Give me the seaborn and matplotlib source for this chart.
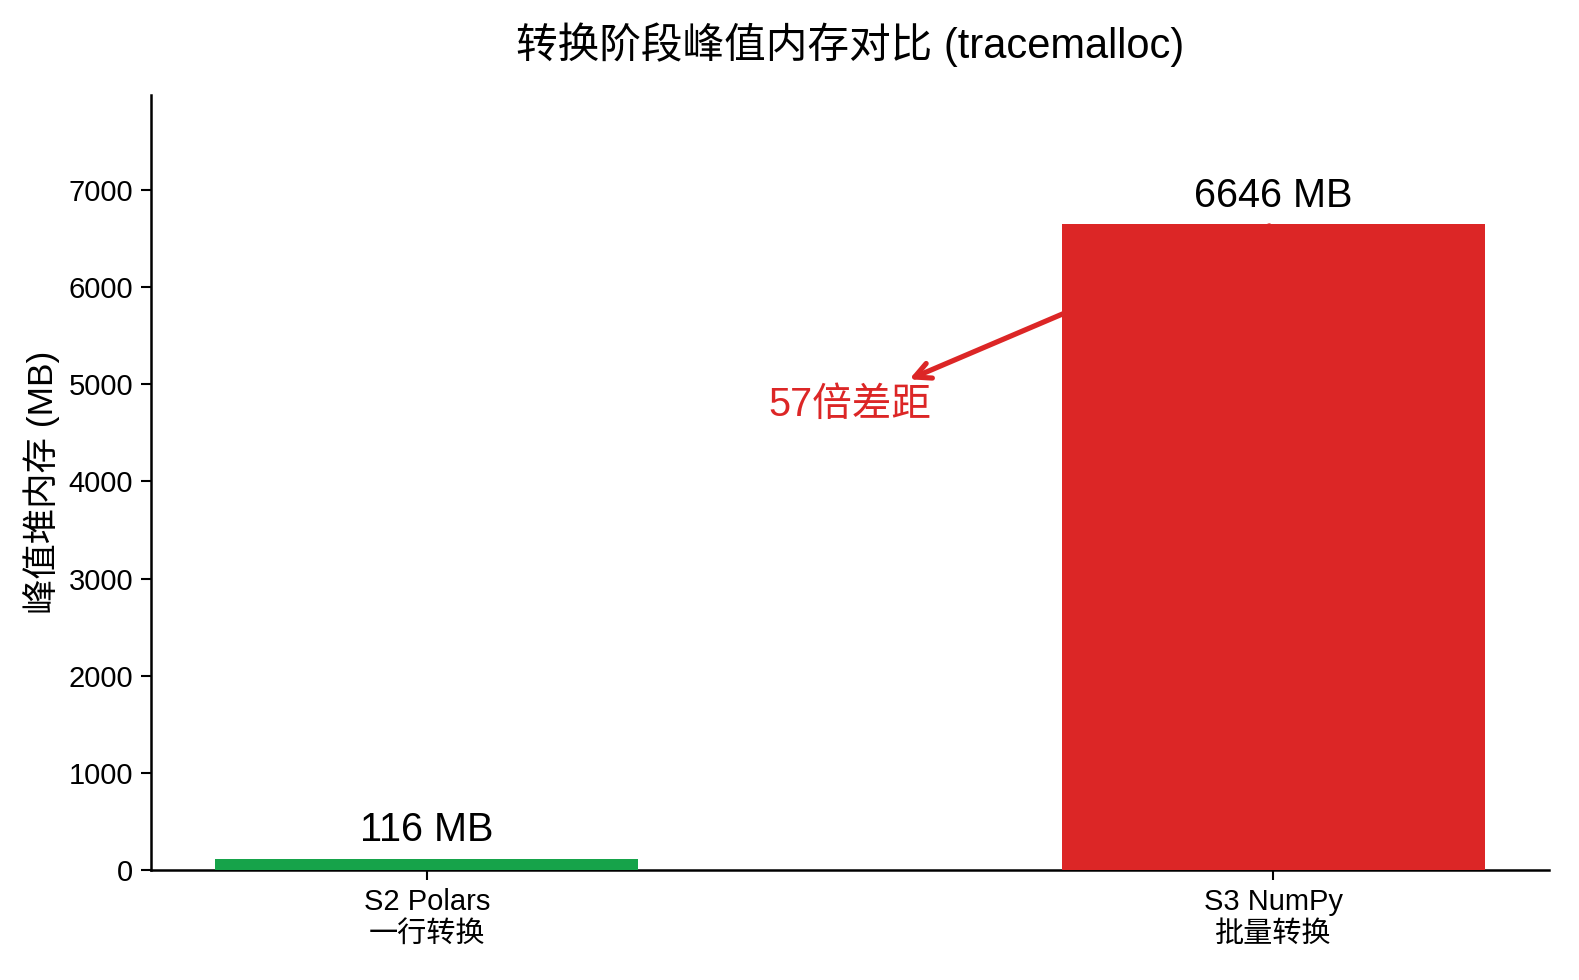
import matplotlib
matplotlib.use("Agg")
import matplotlib.pyplot as plt
import seaborn as sns
import pandas as pd

categories = ["S2 Polars\n一行转换", "S3 NumPy\n批量转换"]
peak_mb = [116, 6646]
bar_colors = ["#16a34a", "#dc2626"]
ratio_text = "57倍差距"

sns.set_style("white")
plt.rcParams["font.family"] = ["Liberation Sans", "Noto Sans CJK SC", "DejaVu Sans"]
plt.rcParams["text.color"] = "black"
plt.rcParams["axes.labelcolor"] = "black"
plt.rcParams["xtick.color"] = "black"
plt.rcParams["ytick.color"] = "black"

df = pd.DataFrame({"方案": categories, "峰值": peak_mb})

fig, ax = plt.subplots(figsize=(1579 / 150, 980 / 150), dpi=150)
fig.subplots_adjust(left=0.0956, right=0.981, bottom=0.1122, top=0.903)

sns.barplot(data=df, x="方案", y="峰值", hue="方案", palette=bar_colors,
            width=0.5, saturation=1, linewidth=0, legend=False, ax=ax, zorder=5)

for i, v in enumerate(peak_mb):
    ax.text(i, v + 100, f"{v} MB", ha="center", va="bottom", fontsize=19)

ax.annotate(ratio_text, xy=(1, peak_mb[1]), xytext=(0.5, 4790),
            ha="center", va="center", fontsize=19, color="#dc2626",
            arrowprops=dict(arrowstyle="<-", color="#dc2626", lw=2.5),
            zorder=1)

ax.set_xlim(-0.326, 1.326)
ax.set_ylim(0, max(peak_mb) * 1.2)
ax.set_title("转换阶段峰值内存对比 (tracemalloc)", fontsize=20, pad=18)
ax.set_ylabel("峰值堆内存 (MB)", fontsize=17)
ax.set_xlabel("")
ax.tick_params(axis="both", labelsize=14, length=5, width=1)
ax.tick_params(axis="both", bottom=True, left=True)
sns.despine(ax=ax)
for s in ["left", "bottom"]:
    ax.spines[s].set_color("black")
    ax.spines[s].set_linewidth(1.2)

plt.savefig("out.png", dpi=150)
